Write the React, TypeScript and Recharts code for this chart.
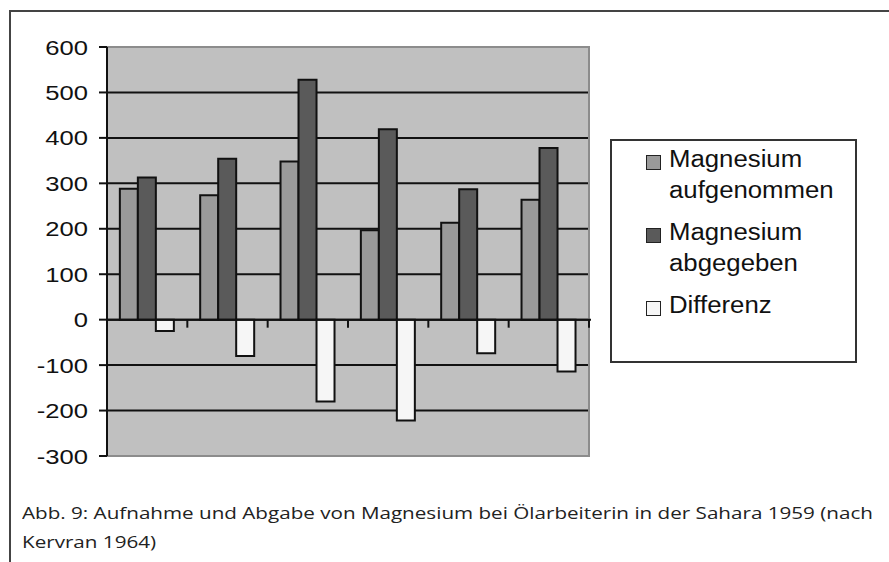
import React from "react";
import { Bar, BarChart, CartesianGrid, Legend, ReferenceArea, ReferenceLine, XAxis, YAxis } from "recharts";

// values (Kervran 1964)
const groups = ["1", "2", "3", "4", "5", "6"];
const aufgenommen = [288, 274, 348, 197, 213, 264];
const abgegeben = [313, 354, 528, 419, 287, 378];
const differenz = [-25, -80, -180, -222, -74, -114];
const yTicks = [-300, -200, -100, 0, 100, 200, 300, 400, 500, 600];

const seriesNames = ["Magnesium aufgenommen", "Magnesium abgegeben", "Differenz"];
const captionLines = [
  "Abb. 9: Aufnahme und Abgabe von Magnesium bei Ölarbeiterin in der Sahara 1959 (nach",
  "Kervran 1964)",
];

const rows = groups.map((g, i) => ({
  g,
  auf: aufgenommen[i],
  ab: abgegeben[i],
  diff: differenz[i],
}));

const ARIAL = "'Liberation Sans', Arial, sans-serif";

function YTick({ x, y, payload }: any) {
  return (
    <g transform={`translate(${x},${y})`}>
      <text x={0} y={0} dy="0.36em" textAnchor="end" fontSize={21} fontFamily={ARIAL} fill="#111" transform="scale(1.22,1)">
        {payload.value}
      </text>
    </g>
  );
}

// zero line with Excel-style category ticks hanging below it
function ZeroAxis(p: any) {
  const step = (p.x2 - p.x1) / groups.length;
  return (
    <g>
      <line x1={p.x1} y1={p.y1} x2={p.x2 + 2} y2={p.y2} stroke="#111" strokeWidth={2} />
      {groups.map((_, i) => {
        const x = p.x1 + step * (i + 1);
        return <line key={i} x1={x} y1={p.y1} x2={x} y2={p.y1 + 8} stroke="#111" strokeWidth={2} />;
      })}
    </g>
  );
}

function LegendBox({ payload }: any) {
  const items = [...(payload || [])].sort(
    (a: any, b: any) => seriesNames.indexOf(a.value) - seriesNames.indexOf(b.value)
  );
  return (
    <div style={{ border: "2px solid #333", boxSizing: "border-box", width: "100%", height: "100%", paddingTop: 3, paddingLeft: 34, background: "#fff" }}>
      {items.map((e: any, i: number) => {
        const lines = String(e.value).split(" ");
        return (
          <div key={i} style={{ display: "flex", alignItems: "flex-start", marginBottom: 11 }}>
            <div style={{ width: 15, height: 15, boxSizing: "border-box", border: "1.5px solid #222", background: e.color, marginTop: 11, flexShrink: 0 }} />
            <div style={{ marginLeft: 8, fontFamily: ARIAL, fontSize: 23, lineHeight: "31px", color: "#111", transform: "scaleX(1.12)", transformOrigin: "left" }}>
              {lines.map((l, k) => <div key={k}>{l}</div>)}
            </div>
          </div>
        );
      })}
    </div>
  );
}

export default function App() {
  return (
    <div style={{ position: "absolute", left: 0, top: 0, width: 889, height: 562, background: "#fff", overflow: "hidden" }}>
      <div style={{ position: "absolute", left: 9, top: 10, width: 900, height: 600, borderTop: "2px solid #444", borderLeft: "2px solid #444" }} />
      <div style={{ position: "absolute", left: 0, top: 0 }}>
        <BarChart width={889} height={562} data={rows} margin={{ top: 47, right: 300, bottom: 106, left: 0 }} barCategoryGap="16%" barGap={0}>
          <CartesianGrid vertical={false} stroke="#111" strokeWidth={2} fill="#c0c0c0" fillOpacity={1} />
          <ReferenceArea y1={-300} y2={600} fill="none" stroke="#8c8c8c" strokeWidth={2} />
          <XAxis dataKey="g" hide />
          <YAxis
            domain={[-300, 600]}
            ticks={yTicks}
            interval={0}
            width={107}
            axisLine={{ stroke: "#111", strokeWidth: 2 }}
            tickLine={{ stroke: "#111", strokeWidth: 2 }}
            tickSize={8}
            tickMargin={11}
            tick={<YTick />}
          />
          <Legend
            layout="horizontal"
            align="center"
            verticalAlign="middle"
            content={<LegendBox />}
            wrapperStyle={{ left: 610, top: 139, width: 247, height: 224 }}
          />
          <Bar dataKey="auf" name={seriesNames[0]} fill="#9a9a9a" stroke="#111" strokeWidth={2} isAnimationActive={false} />
          <Bar dataKey="ab" name={seriesNames[1]} fill="#5a5a5a" stroke="#111" strokeWidth={2} isAnimationActive={false} />
          <Bar dataKey="diff" name={seriesNames[2]} fill="#f6f6f6" stroke="#111" strokeWidth={2} isAnimationActive={false} />
          <ReferenceLine y={0} shape={<ZeroAxis />} />
        </BarChart>
      </div>
      <div style={{ position: "absolute", left: 22, top: 498, whiteSpace: "nowrap", fontFamily: "'Open Sans', sans-serif", fontSize: 16.5, lineHeight: "29px", color: "#222", transform: "scaleX(1.25)", transformOrigin: "left top" }}>
        {captionLines.map((l, i) => <div key={i}>{l}</div>)}
      </div>
    </div>
  );
}
